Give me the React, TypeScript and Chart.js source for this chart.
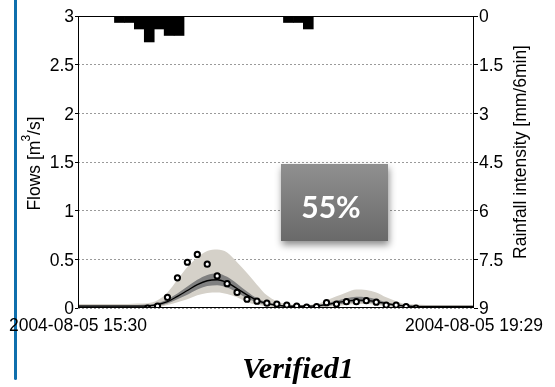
import React, { useEffect, useRef } from 'react';
import { Chart, registerables } from 'chart.js';

Chart.register(...registerables);

// Time step of the simulated / observed series, in minutes from 15:30
const stepMinutes = 6;

const xTickMinutes = [0, 239];
const xTickLabels = ['2004-08-05 15:30', '2004-08-05 19:29'];
const flowTicks = [0, 0.5, 1, 1.5, 2, 2.5, 3];
const flowTickLabels = ['0', '0.5', '1', '1.5', '2', '2.5', '3'];
const rainTicks = [0, 1.5, 3, 4.5, 6, 7.5, 9];
const rainTickLabels = ['0', '1.5', '3', '4.5', '6', '7.5', '9'];

// Rainfall (mm per 6 min), bar centres in minutes
const rainMinutes = [25, 31, 37, 43, 49, 55, 61, 127, 133, 139];
const rainDepth = [0.2, 0.2, 0.4, 0.8, 0.4, 0.6, 0.6, 0.2, 0.2, 0.4];

// Observed flow (m3/s), one value per 6-minute step
const observedFlow: (number | null)[] = [
  null, null, null, null, null, null, null,
  0.0, 0.02, 0.11, 0.31, 0.47, 0.55, 0.45, 0.33, 0.25, 0.16, 0.09, 0.07, 0.05, 0.04,
  0.03, 0.02, 0.01, 0.015, 0.055, 0.04, 0.065, 0.065, 0.075, 0.06, 0.03, 0.03, 0.015, 0.0,
  null, null, null, null, null, null,
];

// Simulated flow: outer and inner uncertainty bands and the median
const outerUpper = [
  0.04, 0.04, 0.04, 0.04, 0.04, 0.04, 0.045, 0.05, 0.08, 0.16, 0.29, 0.42, 0.52, 0.585,
  0.6, 0.57, 0.47, 0.36, 0.24, 0.13, 0.07, 0.04, 0.03, 0.03, 0.04, 0.08, 0.12, 0.16,
  0.19, 0.185, 0.16, 0.11, 0.07, 0.04, 0.035, 0.03, 0.03, 0.03, 0.03, 0.03, 0.03,
];
const innerUpper = [
  0.03, 0.03, 0.03, 0.03, 0.03, 0.03, 0.03, 0.035, 0.05, 0.09, 0.15, 0.22, 0.29, 0.34,
  0.355, 0.32, 0.25, 0.17, 0.1, 0.06, 0.04, 0.025, 0.025, 0.025, 0.03, 0.05, 0.075, 0.1,
  0.115, 0.11, 0.09, 0.06, 0.04, 0.03, 0.025, 0.025, 0.025, 0.025, 0.025, 0.025, 0.025,
];
const medianFlow = [
  0.02, 0.02, 0.02, 0.02, 0.02, 0.02, 0.02, 0.022, 0.035, 0.065, 0.12, 0.18, 0.24, 0.28,
  0.29, 0.26, 0.2, 0.135, 0.08, 0.045, 0.03, 0.018, 0.018, 0.018, 0.022, 0.035, 0.055, 0.07,
  0.08, 0.078, 0.065, 0.045, 0.03, 0.02, 0.015, 0.015, 0.015, 0.015, 0.015, 0.015, 0.015,
];
const innerLower = [
  0.01, 0.01, 0.01, 0.01, 0.01, 0.01, 0.01, 0.012, 0.02, 0.045, 0.09, 0.135, 0.19, 0.225,
  0.235, 0.21, 0.16, 0.1, 0.06, 0.03, 0.02, 0.01, 0.01, 0.01, 0.012, 0.02, 0.035, 0.05,
  0.06, 0.058, 0.045, 0.03, 0.018, 0.01, 0.008, 0.008, 0.008, 0.008, 0.008, 0.008, 0.008,
];
const outerLower = [
  0.003, 0.003, 0.003, 0.003, 0.003, 0.003, 0.003, 0.005, 0.01, 0.03, 0.06, 0.09, 0.13, 0.155,
  0.16, 0.145, 0.11, 0.06, 0.035, 0.015, 0.008, 0.003, 0.003, 0.003, 0.005, 0.01, 0.02, 0.03,
  0.04, 0.04, 0.03, 0.018, 0.008, 0.003, 0.003, 0.003, 0.003, 0.003, 0.003, 0.003, 0.003,
];

const scoreLabel = '55%';
const chartTitle = 'Verified1';
const flowAxisTitle = ['Flows [m', '3', '/s]'];
const rainAxisTitle = 'Rainfall intensity [mm/6min]';

const SANS = "'Liberation Sans', Arial, sans-serif";
const FONT_SIZE = 17.5;

const toPoints = (values: (number | null)[]) =>
  values
    .map((y, i) => (y == null ? null : { x: i * stepMinutes, y }))
    .filter((p) => p !== null) as { x: number; y: number }[];

const decorPlugin = {
  id: 'decor',
  afterDatasetsDraw(chart: any) {
    const { ctx, chartArea } = chart;
    const l = Math.round(chartArea.left) + 0.5;
    const t = Math.round(chartArea.top) + 0.5;
    const r = Math.round(chartArea.right) - 0.5;
    const b = Math.round(chartArea.bottom) - 0.5;
    ctx.save();
    ctx.strokeStyle = '#000';
    ctx.lineWidth = 1;
    ctx.strokeRect(l, t, r - l, b - t);
    ctx.restore();
  },
  afterDraw(chart: any) {
    const { ctx, chartArea } = chart;
    const midY = (chartArea.top + chartArea.bottom) / 2;
    ctx.save();
    ctx.fillStyle = '#000';

    // Left axis title with superscript
    ctx.save();
    ctx.translate(35, midY + 1);
    ctx.rotate(-Math.PI / 2);
    const mainFont = `${FONT_SIZE}px ${SANS}`;
    const supFont = `12px ${SANS}`;
    ctx.font = mainFont;
    const w0 = ctx.measureText(flowAxisTitle[0]).width;
    const w2 = ctx.measureText(flowAxisTitle[2]).width;
    ctx.font = supFont;
    const w1 = ctx.measureText(flowAxisTitle[1]).width;
    let x = -(w0 + w1 + w2) / 2;
    ctx.textBaseline = 'middle';
    ctx.textAlign = 'left';
    ctx.font = mainFont;
    ctx.fillText(flowAxisTitle[0], x, 0);
    x += w0;
    ctx.font = supFont;
    ctx.fillText(flowAxisTitle[1], x - 1, -8);
    x += w1 - 1;
    ctx.font = mainFont;
    ctx.fillText(flowAxisTitle[2], x, 0);
    ctx.restore();

    // Right axis title
    ctx.save();
    ctx.translate(521, 152);
    ctx.rotate(-Math.PI / 2);
    ctx.font = mainFont;
    ctx.textAlign = 'center';
    ctx.textBaseline = 'middle';
    ctx.fillText(rainAxisTitle, 0, 0);
    ctx.restore();

    // Chart title
    ctx.font = `bold italic 30px 'Liberation Serif', 'Times New Roman', serif`;
    ctx.textAlign = 'center';
    ctx.textBaseline = 'alphabetic';
    ctx.fillText(chartTitle, 298, 378);

    // Score badge
    const bx = 281, by = 164, bw = 107, bh = 77;
    ctx.save();
    ctx.shadowColor = 'rgba(0,0,0,0.45)';
    ctx.shadowBlur = 7;
    ctx.shadowOffsetX = 1;
    ctx.shadowOffsetY = 4;
    const grad = ctx.createLinearGradient(0, by, 0, by + bh);
    grad.addColorStop(0, '#909090');
    grad.addColorStop(1, '#696969');
    ctx.fillStyle = grad;
    ctx.fillRect(bx, by, bw, bh);
    ctx.restore();
    ctx.fillStyle = '#ffffff';
    ctx.font = `bold 30px Lato, 'Open Sans', sans-serif`;
    ctx.textAlign = 'center';
    ctx.textBaseline = 'middle';
    ctx.fillText(scoreLabel, 331, 208);
    ctx.restore();
  },
};

export default function App() {
  const canvasRef = useRef<HTMLCanvasElement | null>(null);

  useEffect(() => {
    const canvas = canvasRef.current;
    if (!canvas) return;
    const tickFont = { family: SANS, size: FONT_SIZE };

    const chart = new Chart(canvas, {
      type: 'line',
      data: {
        datasets: [
          {
            label: 'Observed',
            data: toPoints(observedFlow),
            showLine: false,
            pointRadius: 2.6,
            pointBorderWidth: 2,
            pointBorderColor: '#000',
            pointBackgroundColor: '#fff',
            yAxisID: 'y',
            order: 0,
          },
          {
            label: 'Median',
            data: toPoints(medianFlow),
            borderColor: '#000',
            borderWidth: 1.3,
            pointRadius: 0,
            cubicInterpolationMode: 'monotone',
            fill: false,
            yAxisID: 'y',
            order: 1,
          },
          {
            label: 'Inner upper',
            data: toPoints(innerUpper),
            borderWidth: 0,
            borderColor: 'rgba(0,0,0,0)',
            backgroundColor: '#808080',
            pointRadius: 0,
            cubicInterpolationMode: 'monotone',
            fill: '+1',
            yAxisID: 'y',
            order: 2,
          },
          {
            label: 'Inner lower',
            data: toPoints(innerLower),
            borderWidth: 0,
            borderColor: 'rgba(0,0,0,0)',
            pointRadius: 0,
            cubicInterpolationMode: 'monotone',
            fill: false,
            yAxisID: 'y',
            order: 3,
          },
          {
            label: 'Outer upper',
            data: toPoints(outerUpper),
            borderWidth: 0,
            borderColor: 'rgba(0,0,0,0)',
            backgroundColor: '#d5d1c9',
            pointRadius: 0,
            cubicInterpolationMode: 'monotone',
            fill: '+1',
            yAxisID: 'y',
            order: 4,
          },
          {
            label: 'Outer lower',
            data: toPoints(outerLower),
            borderWidth: 0,
            borderColor: 'rgba(0,0,0,0)',
            pointRadius: 0,
            cubicInterpolationMode: 'monotone',
            fill: false,
            yAxisID: 'y',
            order: 5,
          },
          {
            type: 'bar',
            label: 'Rainfall',
            data: rainMinutes.map((m, i) => ({ x: m, y: rainDepth[i] })),
            backgroundColor: '#000',
            borderWidth: 0,
            barPercentage: 1,
            categoryPercentage: 1,
            yAxisID: 'rain',
            order: 6,
          } as any,
        ],
      },
      options: {
        responsive: false,
        animation: false,
        events: [],
        layout: { padding: { top: 16, left: 0, right: 0, bottom: 0 } },
        plugins: {
          legend: { display: false },
          tooltip: { enabled: false },
          title: { display: false },
        },
        scales: {
          x: {
            type: 'linear',
            min: 0,
            max: 239,
            offset: false,
            grid: { display: false, drawTicks: false },
            border: { display: false },
            ticks: {
              padding: 8,
              maxRotation: 0,
              minRotation: 0,
              autoSkip: false,
              color: '#000',
              font: tickFont,
              callback: (_v: any, i: number) => xTickLabels[i],
            },
            afterBuildTicks: (s: any) => {
              s.ticks = xTickMinutes.map((v) => ({ value: v }));
            },
            afterFit: (s: any) => {
              s.height = 79;
              s.paddingLeft = 0;
              s.paddingRight = 0;
            },
          },
          y: {
            position: 'left',
            min: 0,
            max: 3,
            grid: {
              color: '#9a9a9a',
              lineWidth: 1,
              tickLength: 3,
              tickColor: '#000',
              tickWidth: 1,
            },
            border: { display: false, dash: [2, 2] },
            ticks: {
              padding: 1,
              labelOffset: 1.5,
              color: '#000',
              font: tickFont,
              callback: (_v: any, i: number) => flowTickLabels[i],
            },
            afterBuildTicks: (s: any) => {
              s.ticks = flowTicks.map((v) => ({ value: v }));
            },
            afterFit: (s: any) => {
              s.width = 78;
              s.paddingTop = 0;
              s.paddingBottom = 0;
            },
          },
          rain: {
            position: 'right',
            min: 0,
            max: 9,
            reverse: true,
            grid: {
              drawOnChartArea: false,
              tickLength: 4,
              tickColor: '#000',
              color: '#000',
            },
            border: { display: false },
            ticks: {
              padding: 1,
              labelOffset: 1.5,
              color: '#000',
              font: tickFont,
              callback: (_v: any, i: number) => rainTickLabels[i],
            },
            afterBuildTicks: (s: any) => {
              s.ticks = rainTicks.map((v) => ({ value: v }));
            },
            afterFit: (s: any) => {
              s.width = 81;
              s.paddingTop = 0;
              s.paddingBottom = 0;
            },
          },
        },
      } as any,
      plugins: [decorPlugin],
    });

    return () => chart.destroy();
  }, []);

  return (
    <div style={{ position: 'absolute', left: 0, top: 0, width: 555, height: 387, background: '#fff' }}>
      <div
        style={{
          position: 'absolute',
          left: 14,
          top: 0,
          width: 3,
          height: 380,
          background: '#0f6fad',
          borderBottomLeftRadius: 2,
          borderBottomRightRadius: 2,
        }}
      />
      <canvas ref={canvasRef} width={555} height={387} style={{ display: 'block', position: 'absolute', left: 0, top: 0 }} />
    </div>
  );
}
